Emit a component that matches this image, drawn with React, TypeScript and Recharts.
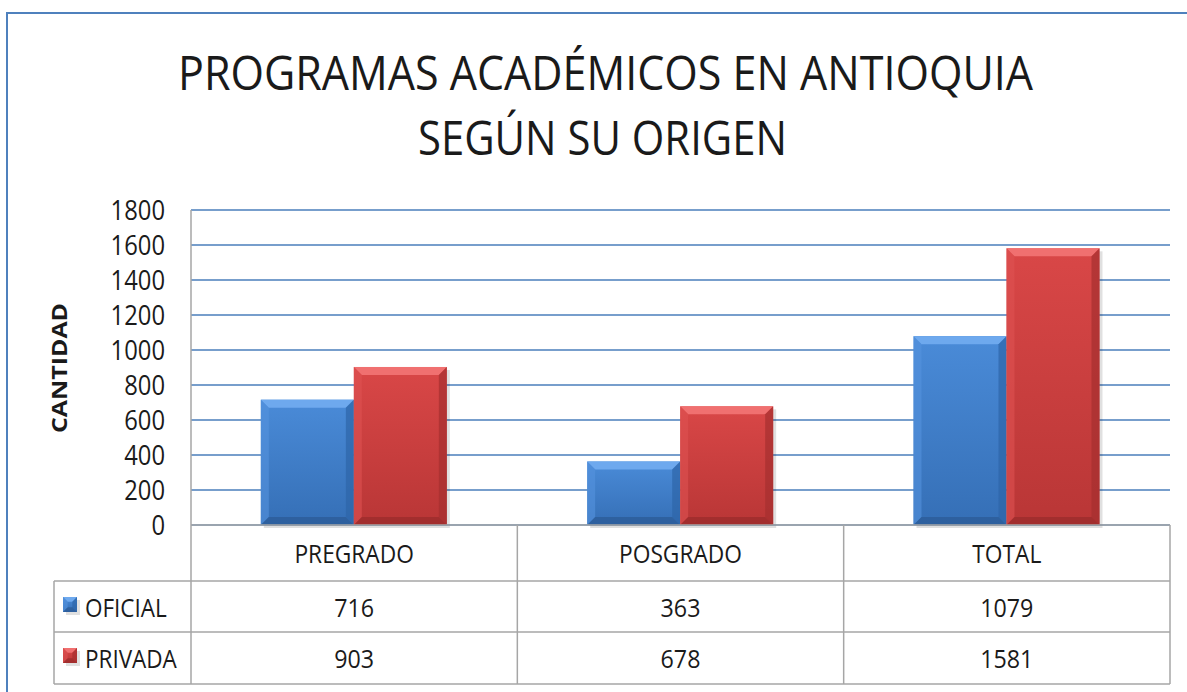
import { Bar, BarChart, CartesianGrid, Customized, XAxis, YAxis } from 'recharts'

const categories = ['PREGRADO', 'POSGRADO', 'TOTAL']
const oficial = [716, 363, 1079]
const privada = [903, 678, 1581]
const seriesNames = ['OFICIAL', 'PRIVADA']
const yTicks = [0, 200, 400, 600, 800, 1000, 1200, 1400, 1600, 1800]

const data = categories.map((c, i) => ({ category: c, oficial: oficial[i], privada: privada[i] }))

const FONT = '"Open Sans", "Noto Sans", sans-serif'
const GRID = '#4a7ebb'
const BORDER = '#a6a6a6'
const INK = '#1a1a1a'

// plot frame
const W = 1187
const H = 692
const PLOT_LEFT = 191
const PLOT_RIGHT = 1170
const PLOT_TOP = 210
const PLOT_BOTTOM = 525
const ROW1 = 581
const ROW2 = 632
const ROW3 = 684
const TABLE_LEFT = 54

const palettes = {
  blue: { top: '#6ea9ee', left: '#5592dd', right: '#2e65a8', bottom: '#2b5a94', hi: '#4a8bd8', lo: '#356fb6' },
  red: { top: '#f07070', left: '#de5151', right: '#a52f2f', bottom: '#982b2b', hi: '#d94747', lo: '#b93636' },
}

type Pal = typeof palettes.blue

// narrow text: Calibri-ish look by squeezing a humanist sans
function NText({ x, y, size, sx = 0.9, anchor = 'start', children, weight }: any) {
  return (
    <text
      transform={`translate(${x},${y}) scale(${sx},1)`}
      textAnchor={anchor}
      fontFamily={FONT}
      fontSize={size}
      fontWeight={weight}
      fill={INK}
    >
      {children}
    </text>
  )
}

function Bevel({ x, y, width, height, pal, id }: { x: number; y: number; width: number; height: number; pal: Pal; id: string }) {
  if (!height || height <= 0) return null
  const b = Math.min(8, height / 3, width / 3)
  return (
    <g>
      <defs>
        <linearGradient id={id} x1="0" y1="0" x2="0" y2="1">
          <stop offset="0%" stopColor={pal.hi} />
          <stop offset="100%" stopColor={pal.lo} />
        </linearGradient>
      </defs>
      <rect x={x + 3} y={y + 3} width={width} height={height} fill="#000" opacity={0.12} />
      <rect x={x} y={y} width={width} height={height} fill={`url(#${id})`} />
      <polygon points={`${x},${y} ${x + width},${y} ${x + width - b},${y + b} ${x + b},${y + b}`} fill={pal.top} />
      <polygon points={`${x},${y} ${x + b},${y + b} ${x + b},${y + height - b} ${x},${y + height}`} fill={pal.left} opacity={0.6} />
      <polygon points={`${x + width},${y} ${x + width - b},${y + b} ${x + width - b},${y + height - b} ${x + width},${y + height}`} fill={pal.right} opacity={0.7} />
      <polygon points={`${x},${y + height} ${x + b},${y + height - b} ${x + width - b},${y + height - b} ${x + width},${y + height}`} fill={pal.bottom} opacity={0.7} />
    </g>
  )
}

const BlueBar = (p: any) => <Bevel x={p.x} y={p.y} width={p.width} height={p.height} pal={palettes.blue} id={`gb${p.index}`} />
const RedBar = (p: any) => <Bevel x={p.x} y={p.y} width={p.width} height={p.height} pal={palettes.red} id={`gr${p.index}`} />

const YTick = (p: any) => (
  <NText x={165} y={p.payload.coordinate + 10} anchor="end" size={28} sx={0.85}>
    {p.payload.value}
  </NText>
)

const XTick = (p: any) => {
  const cx = p.payload.coordinate
  const band = (PLOT_RIGHT - PLOT_LEFT) / categories.length
  const i = p.index
  return (
    <g>
      <NText x={cx} y={563} anchor="middle" size={25} sx={0.91}>{p.payload.value}</NText>
      <NText x={cx} y={617} anchor="middle" size={25} sx={0.93}>{oficial[i]}</NText>
      <NText x={cx} y={668} anchor="middle" size={25} sx={0.93}>{privada[i]}</NText>
      <line x1={cx + band / 2} y1={PLOT_BOTTOM} x2={cx + band / 2} y2={ROW3} stroke={BORDER} strokeWidth={1.5} />
    </g>
  )
}

function TableFrame() {
  return (
    <g>
      <rect x={7} y={13} width={W + 20} height={H + 20} fill="none" stroke="#4f81bd" strokeWidth={2} />
      <line x1={PLOT_LEFT} y1={PLOT_TOP} x2={PLOT_LEFT} y2={ROW3} stroke={BORDER} strokeWidth={1.5} />
      <line x1={TABLE_LEFT} y1={ROW1} x2={TABLE_LEFT} y2={ROW3} stroke={BORDER} strokeWidth={1.5} />
      {[ROW1, ROW2, ROW3].map(y => (
        <line key={y} x1={TABLE_LEFT} y1={y} x2={PLOT_RIGHT} y2={y} stroke={BORDER} strokeWidth={1.5} />
      ))}
      <g transform="translate(63,597)">
        <Bevel x={0} y={0} width={14} height={15} pal={palettes.blue} id="lgb" />
      </g>
      <g transform="translate(63,648)">
        <Bevel x={0} y={0} width={14} height={15} pal={palettes.red} id="lgr" />
      </g>
      <NText x={85} y={617} size={25} sx={0.9}>{seriesNames[0]}</NText>
      <NText x={85} y={668} size={25} sx={0.9}>{seriesNames[1]}</NText>
      <text x={178} y={90} fontFamily={FONT} fontSize={47} fill={INK} textLength={855} lengthAdjust="spacingAndGlyphs">
        PROGRAMAS ACADÉMICOS EN ANTIOQUIA
      </text>
      <text x={418} y={155} fontFamily={FONT} fontSize={47} fill={INK} textLength={369} lengthAdjust="spacingAndGlyphs">
        SEGÚN SU ORIGEN
      </text>
      <text
        x={0}
        y={0}
        transform="translate(67,368) rotate(-90)"
        textAnchor="middle"
        fontFamily={FONT}
        fontWeight="bold"
        fontSize={21}
        fill={INK}
        textLength={130}
        lengthAdjust="spacingAndGlyphs"
      >
        CANTIDAD
      </text>
    </g>
  )
}

export default function App() {
  return (
    <div style={{ position: 'absolute', left: 0, top: 0, width: W, height: H, background: '#fff' }}>
      <BarChart
        width={W}
        height={H}
        data={data}
        margin={{ top: PLOT_TOP, right: W - PLOT_RIGHT, bottom: 0, left: PLOT_LEFT - 80 }}
        barCategoryGap="21.4%"
        barGap={0}
      >
        <CartesianGrid vertical={false} stroke={GRID} strokeWidth={1.5} />
        <YAxis
          width={80}
          domain={[0, 1800]}
          ticks={yTicks}
          axisLine={false}
          tickLine={false}
          tick={<YTick />}
          interval={0}
        />
        <XAxis
          dataKey="category"
          height={H - PLOT_BOTTOM}
          axisLine={{ stroke: BORDER, strokeWidth: 1.5 }}
          tickLine={false}
          tick={<XTick />}
          interval={0}
        />
        <Bar dataKey="oficial" name={seriesNames[0]} shape={<BlueBar />} isAnimationActive={false} />
        <Bar dataKey="privada" name={seriesNames[1]} shape={<RedBar />} isAnimationActive={false} />
        <Customized component={<TableFrame />} />
      </BarChart>
    </div>
  )
}
